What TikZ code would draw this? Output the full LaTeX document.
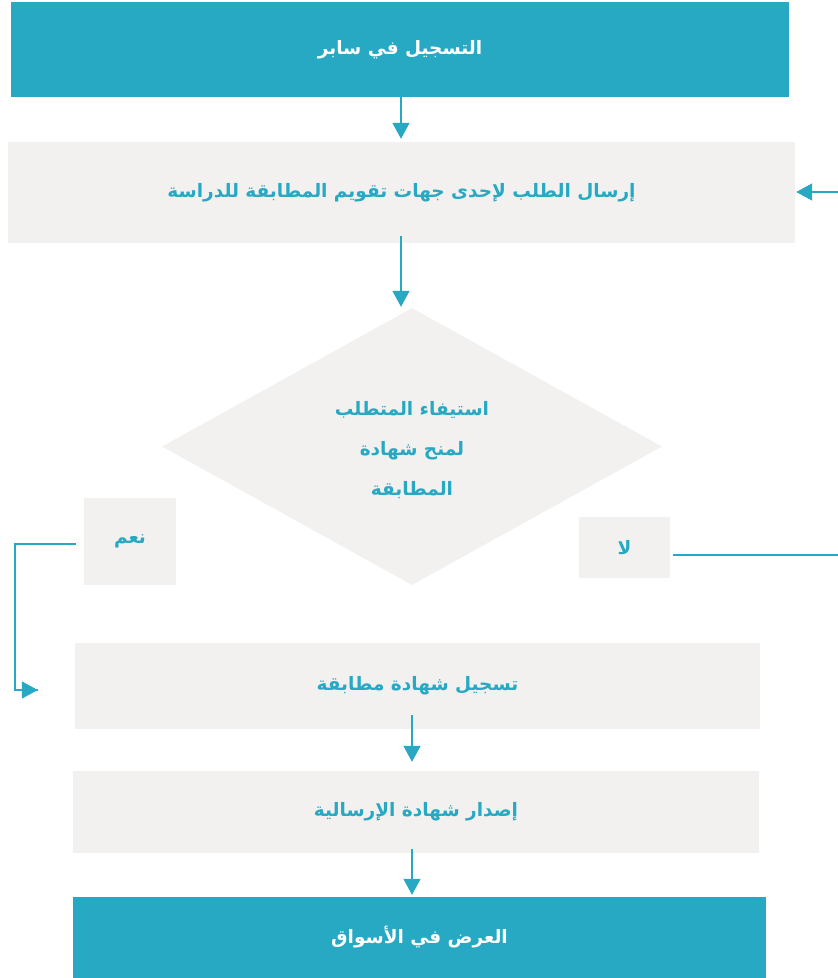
\documentclass[tikz,border=0pt]{standalone}
\usepackage{fontspec}
\usepackage{xcolor}
\usepackage{tikz}
\usetikzlibrary{arrows.meta, shapes.geometric}
\TeXXeTstate=1
\newfontfamily\arabicfont[Script=Arabic]{DejaVu Sans}
\definecolor{sabrteal}{HTML}{27A8C3}
\definecolor{sabrgray}{HTML}{F2F1EF}

\begin{document}
\begin{tikzpicture}[x=1pt, y=-1pt,
    darkbox/.style={rectangle, fill=sabrteal, text=white, inner sep=0pt,
        font=\arabicfont\bfseries\fontsize{18.5}{22}\selectfont},
    lightbox/.style={rectangle, fill=sabrgray, text=sabrteal, inner sep=0pt,
        font=\arabicfont\bfseries\fontsize{18.5}{22}\selectfont},
    link/.style={draw=sabrteal, line width=1.5pt},
    flow/.style={link, -{Triangle[width=17pt, length=16pt]}}]
    \useasboundingbox (0,0) rectangle (838,978);

    % Registration and request
    \node[darkbox, minimum width=778pt, minimum height=95pt] (reg) at (400,49.5) {\beginR التسجيل في سابر\endR};
    \node[lightbox, minimum width=787pt, minimum height=101pt] (send) at (401.5,192.5) {\beginR إرسال الطلب لإحدى جهات تقويم المطابقة للدراسة\endR};

    % Decision
    \node[lightbox, diamond, aspect=1.805, minimum width=500pt, minimum height=277pt] (check) at (412,446.5) {};
    \node[text=sabrteal, align=center, inner sep=0pt,
        font=\arabicfont\bfseries\fontsize{18.5}{40}\selectfont] (checktext) at ([yshift=-4pt]check.center)
        {\beginR استيفاء المتطلب\endR\\\beginR لمنح شهادة\endR\\\beginR المطابقة\endR};
    \node[lightbox, minimum width=92pt, minimum height=87pt] (yes) at (130,541.5) {\beginR نعم\endR};
    \node[lightbox, minimum width=91pt, minimum height=61pt] (no) at (624.5,547.5) {\beginR لا\endR};

    % Certificate steps
    \node[lightbox, minimum width=685pt, minimum height=86pt] (certreg) at (417.5,686) {\beginR تسجيل شهادة مطابقة\endR};
    \node[lightbox, minimum width=686pt, minimum height=82pt] (issue) at (416,812) {\beginR إصدار شهادة الإرسالية\endR};
    \node[darkbox, minimum width=693pt, minimum height=81pt] (market) at (419.5,937.5) {\beginR العرض في الأسواق\endR};

    % Loose ends at the page edges
    \coordinate (yesrail) at (15,544);
    \coordinate (noend) at (838,555);
    \coordinate (backin) at (838,192);

    % Connectors
    \draw[flow, shorten >=3pt] (reg.south -| 401,0) -- (send.north -| 401,0);
    \draw[flow, shorten <=-7pt, shorten >=1pt] (send.south -| 401,0) -- (check.north -| 401,0);
    \draw[flow, shorten <=-14pt, shorten >=9pt] (certreg.south -| 412,0) -- (issue.north -| 412,0);
    \draw[flow, shorten <=-4pt, shorten >=2pt] (issue.south -| 412,0) -- (market.north -| 412,0);
    \draw[link] ([xshift=-8pt]yes.west |- yesrail) -- (yesrail) |- ([xshift=-37pt]certreg.west |- 0,690);
    \draw[flow] ([xshift=-37pt]certreg.west |- 0,690) ++(-2,0) -- ++(2,0);
    \draw[link] ([xshift=3pt]no.east |- noend) -- (noend);
    \draw[flow, shorten >=1pt] (backin) -- (send.east |- backin);
\end{tikzpicture}
\end{document}
